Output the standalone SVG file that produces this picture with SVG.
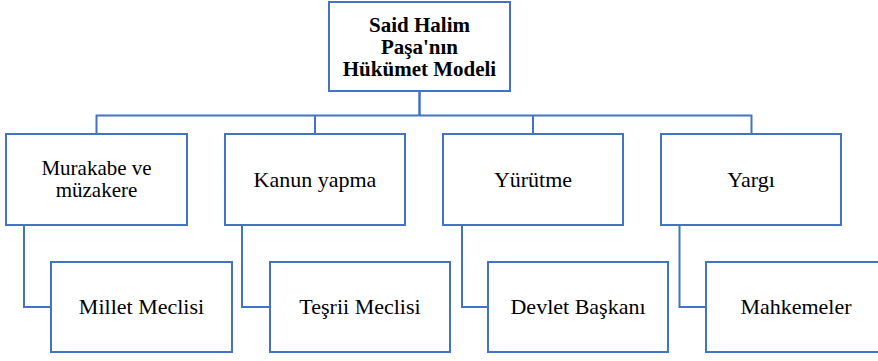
<svg xmlns="http://www.w3.org/2000/svg" width="878" height="361" viewBox="0 0 878 361">
<style>
.box{fill:#ffffff;stroke:#4472C4;stroke-width:2}
.con{fill:none;stroke:#4472C4;stroke-width:2}
.t{font-family:'Liberation Serif','Times New Roman','DejaVu Serif',serif;font-size:22px;fill:#000;text-anchor:middle}
.b{font-weight:bold;font-size:21px}
.s{font-size:21px}
</style>
<rect width="878" height="361" fill="#ffffff"/>
<g id="connectors">
<path class="con" d="M419.5 91 V115" style="stroke-width:2.5"/>
<path class="con" d="M96.5 134 V115.5 H751.5 V134"/>
<path class="con" d="M315 115.5 V134"/>
<path class="con" d="M533 115.5 V134"/>
<path class="con" d="M24 225 V307 H51"/>
<path class="con" d="M242 225 V307 H270"/>
<path class="con" d="M462 225 V307 H488"/>
<path class="con" d="M679.5 225 V307 H706"/>
</g>
<g id="root">
<rect class="box" x="329" y="2" width="181" height="89"/>
<text class="t b" x="419.5" y="32">Said Halim</text>
<text class="t b" x="419.5" y="54">Paşa'nın</text>
<text class="t b" x="419.5" y="76">Hükümet Modeli</text>
</g>
<g id="murakabe">
<rect class="box" x="6" y="134" width="181" height="91"/>
<text class="t s" x="96.5" y="175">Murakabe ve</text>
<text class="t s" x="96.5" y="197">müzakere</text>
</g>
<g id="kanun">
<rect class="box" x="225" y="134" width="180" height="91"/>
<text class="t" x="315" y="187">Kanun yapma</text>
</g>
<g id="yurutme">
<rect class="box" x="443" y="134" width="180" height="91"/>
<text class="t" x="533" y="187">Yürütme</text>
</g>
<g id="yargi">
<rect class="box" x="661" y="134" width="180" height="91"/>
<text class="t" x="751" y="187">Yargı</text>
</g>
<g id="millet">
<rect class="box" x="51" y="262" width="181" height="90"/>
<text class="t" x="141.5" y="314">Millet Meclisi</text>
</g>
<g id="tesrii">
<rect class="box" x="270" y="262" width="180" height="90"/>
<text class="t" x="360" y="314">Teşrii Meclisi</text>
</g>
<g id="devlet">
<rect class="box" x="488" y="262" width="180" height="90"/>
<text class="t" x="578" y="314">Devlet Başkanı</text>
</g>
<g id="mahkemeler">
<rect class="box" x="706" y="262" width="181" height="90"/>
<text class="t" x="796" y="314">Mahkemeler</text>
</g>
</svg>
